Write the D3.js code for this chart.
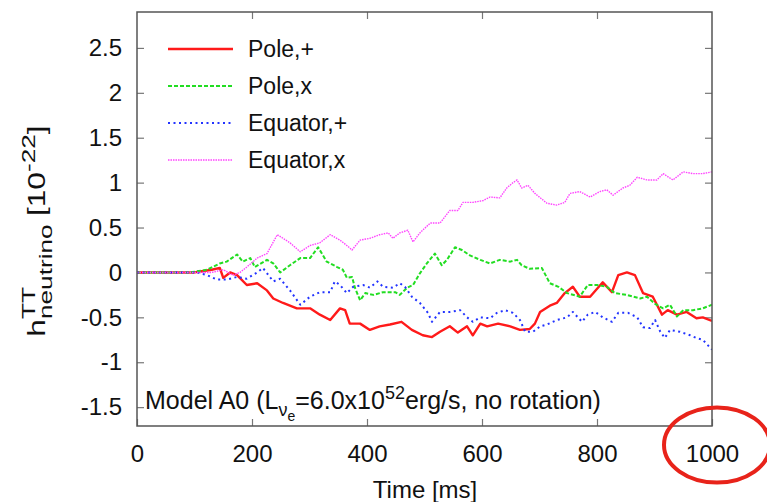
<!DOCTYPE html>
<html>
<head>
<meta charset="utf-8">
<script src="https://cdn.jsdelivr.net/npm/d3@7"></script>
<style>
  html, body { margin: 0; padding: 0; background: #fff; }
  svg { display: block; font-family: "Liberation Sans", Arial, Helvetica, sans-serif; }
</style>
</head>
<body>
<svg id="chart" width="767" height="502"></svg>
<script>
// ---- data ----
const xTicks = [0, 200, 400, 600, 800, 1000];
const yTicks = [-1.5, -1, -0.5, 0, 0.5, 1, 1.5, 2, 2.5];
const seriesNames = ["Pole,+", "Pole,x", "Equator,+", "Equator,x"];

const polePlus = [[0,0],[100,0],[110,0.01],[130,0.03],[144,0.05],[150,-0.06],[162,0],[174,-0.03],[191,-0.14],[209,-0.12],[226,-0.2],[237,-0.29],[254,-0.34],[278,-0.4],[301,-0.4],[318,-0.47],[336,-0.53],[353,-0.4],[362,-0.42],[370,-0.57],[388,-0.57],[405,-0.64],[422,-0.6],[440,-0.58],[460,-0.55],[478,-0.64],[497,-0.7],[513,-0.72],[527,-0.66],[544,-0.6],[558,-0.67],[574,-0.6],[584,-0.7],[597,-0.57],[609,-0.6],[628,-0.57],[649,-0.6],[666,-0.64],[683,-0.63],[692,-0.57],[701,-0.44],[718,-0.37],[730,-0.34],[744,-0.23],[758,-0.16],[770,-0.27],[788,-0.27],[810,-0.11],[826,-0.22],[837,-0.03],[852,0.0],[866,-0.03],[880,-0.23],[897,-0.27],[913,-0.47],[923,-0.42],[939,-0.47],[956,-0.44],[973,-0.51],[984,-0.5],[1000,-0.54]];

const poleCross = [[0,0],[92,0],[122,0.03],[144,0.1],[156,0.12],[174,0.2],[184,0.12],[197,0.16],[205,0.06],[226,0.14],[237,0.1],[249,0.0],[266,0.08],[284,0.16],[301,0.16],[315,0.28],[330,0.12],[348,0.06],[358,0.03],[365,-0.06],[374,-0.05],[379,-0.17],[388,-0.31],[397,-0.23],[411,-0.25],[428,-0.22],[449,-0.22],[457,-0.25],[470,-0.17],[480,-0.14],[492,-0.01],[504,0.1],[518,0.21],[530,0.08],[539,0.14],[553,0.28],[565,0.25],[579,0.19],[597,0.14],[614,0.1],[631,0.14],[649,0.12],[661,0.14],[669,0.08],[683,0.04],[704,0.05],[718,-0.12],[733,-0.16],[748,-0.23],[770,-0.27],[784,-0.14],[800,-0.14],[817,-0.16],[831,-0.23],[852,-0.25],[875,-0.29],[887,-0.27],[901,-0.35],[915,-0.4],[927,-0.36],[939,-0.49],[950,-0.42],[967,-0.42],[984,-0.4],[1000,-0.36]];

const equatorPlus = [[0,0],[104,0],[122,-0.03],[139,-0.08],[156,-0.08],[174,-0.05],[191,-0.07],[209,0.0],[219,0.05],[237,-0.1],[249,-0.07],[266,-0.2],[284,-0.36],[301,-0.27],[318,-0.22],[336,-0.22],[344,-0.1],[353,-0.14],[365,-0.23],[376,-0.16],[393,-0.14],[405,-0.17],[418,-0.1],[428,-0.16],[445,-0.17],[457,-0.12],[466,-0.16],[478,-0.27],[492,-0.34],[506,-0.45],[513,-0.55],[527,-0.44],[544,-0.44],[562,-0.42],[574,-0.5],[584,-0.55],[597,-0.5],[614,-0.51],[626,-0.45],[640,-0.42],[654,-0.45],[666,-0.53],[675,-0.66],[689,-0.66],[701,-0.6],[713,-0.58],[730,-0.53],[748,-0.5],[758,-0.44],[774,-0.55],[784,-0.47],[797,-0.44],[810,-0.5],[826,-0.55],[837,-0.45],[854,-0.45],[870,-0.5],[880,-0.61],[892,-0.62],[901,-0.53],[910,-0.66],[918,-0.73],[927,-0.64],[944,-0.66],[962,-0.7],[973,-0.73],[984,-0.75],[1000,-0.86]];

const equatorCross = [[0,0],[130,0],[150,0.03],[167,-0.03],[179,0.0],[191,0.06],[209,0.16],[226,0.21],[244,0.42],[254,0.38],[266,0.33],[284,0.23],[301,0.3],[318,0.33],[336,0.42],[353,0.36],[365,0.3],[374,0.25],[388,0.36],[405,0.38],[422,0.42],[437,0.44],[445,0.38],[457,0.44],[471,0.47],[480,0.34],[492,0.44],[510,0.55],[527,0.55],[544,0.69],[558,0.69],[567,0.78],[584,0.78],[602,0.8],[614,0.84],[631,0.83],[643,0.94],[654,1.0],[661,1.03],[669,0.94],[680,0.97],[692,0.88],[713,0.77],[730,0.75],[744,0.78],[753,0.88],[770,0.9],[788,0.84],[805,0.9],[817,0.92],[828,0.86],[845,0.94],[857,0.97],[870,1.06],[887,1.03],[904,1.03],[915,1.1],[932,1.03],[950,1.12],[967,1.1],[984,1.1],[1000,1.12]];

// ---- layout / styles ----
const svg = d3.select("#chart");
const L = 137, R = 712, T = 12, B = 426;
const x = d3.scaleLinear().domain([0, 1000]).range([L, R]);
const y = d3.scaleLinear().domain([-1.71, 2.9]).range([B, T]);
const FS = 24;     // tick labels
const FL = 23;     // legend
const FA = 25;     // annotation

const styles = [
  { color: "#ff1a1a", width: 2.4, dash: null },
  { color: "#22dd22", width: 2.0, dash: "4,2" },
  { color: "#2233ff", width: 2.0, dash: "2,3.5" },
  { color: "#ff44ff", width: 1.4, dash: "1.5,1" }
];
const allSeries = [polePlus, poleCross, equatorPlus, equatorCross];

svg.append("defs").append("clipPath").attr("id", "clip")
  .append("rect").attr("x", L).attr("y", T).attr("width", R - L).attr("height", B - T);

// ticks (inward, mirrored)
const tickLen = 7;
const axisColor = "#555";
const gAx = svg.append("g");
const xAxB = d3.axisBottom(x).tickValues(xTicks).tickSizeInner(-tickLen).tickSizeOuter(0).tickPadding(19).tickFormat(d3.format("d"));
const gxb = gAx.append("g").attr("transform", `translate(0,${B})`).call(xAxB);
const xAxT = d3.axisTop(x).tickValues(xTicks.slice(1, -1)).tickSizeInner(-tickLen).tickSizeOuter(0).tickFormat("");
gAx.append("g").attr("transform", `translate(0,${T})`).call(xAxT);
const yAxL = d3.axisLeft(y).tickValues(yTicks).tickSizeInner(-tickLen).tickSizeOuter(0).tickPadding(15).tickFormat(d => d3.format("")(d).replace("−", "-"));
gAx.append("g").attr("transform", `translate(${L},0)`).call(yAxL);
const yAxR = d3.axisRight(y).tickValues(yTicks).tickSizeInner(-tickLen).tickSizeOuter(0).tickFormat("");
gAx.append("g").attr("transform", `translate(${R},0)`).call(yAxR);
gAx.selectAll(".domain").remove();
gAx.selectAll(".tick line").attr("stroke", "#777").attr("stroke-width", 1.2);
gAx.selectAll(".tick text").attr("font-size", FS).attr("fill", "#111")
  .attr("font-family", "'Liberation Sans', Arial, Helvetica, sans-serif");
gxb.selectAll(".tick text").attr("dy", "0.71em");

// lines
const line = d3.line().x(d => x(d[0])).y(d => y(d[1]));
const gl = svg.append("g").attr("clip-path", "url(#clip)");
allSeries.forEach((s, i) => {
  const st = styles[i];
  gl.append("path").datum(s).attr("d", line)
    .attr("fill", "none").attr("stroke", st.color).attr("stroke-width", st.width)
    .attr("stroke-dasharray", st.dash).attr("stroke-linejoin", "round");
});

// border
svg.append("rect").attr("x", L).attr("y", T).attr("width", R - L).attr("height", B - T)
  .attr("fill", "none").attr("stroke", axisColor).attr("stroke-width", 1.5);

// legend
const legY = [49, 86, 123, 160];
const gLeg = svg.append("g");
seriesNames.forEach((n, i) => {
  const st = styles[i];
  gLeg.append("line").attr("x1", 168).attr("x2", 233).attr("y1", legY[i]).attr("y2", legY[i])
    .attr("stroke", st.color).attr("stroke-width", st.width).attr("stroke-dasharray", st.dash);
  gLeg.append("text").attr("x", 248).attr("y", legY[i] + 8).attr("font-size", FL).attr("fill", "#111").text(n);
});

// annotation
const ann = svg.append("text").attr("x", 145).attr("y", 409).attr("font-size", FA).attr("fill", "#111");
ann.append("tspan").text("Model A0 (L");
ann.append("tspan").attr("font-size", 18).attr("dy", 7).text("ν");
ann.append("tspan").attr("font-size", 14).attr("dy", 5).text("e");
ann.append("tspan").attr("font-size", FA).attr("dy", -12).text("=6.0x10");
ann.append("tspan").attr("font-size", 18).attr("dy", -10).text("52");
ann.append("tspan").attr("font-size", FA).attr("dy", 10).text("erg/s, no rotation)");

// x label
svg.append("text").attr("x", 425).attr("y", 498).attr("text-anchor", "middle")
  .attr("font-size", FS).attr("fill", "#111").text("Time [ms]");

// y label (rotated, built from pieces, slightly stretched along its baseline like the reference)
const YM = 23, YS = 19;
const gy = svg.append("g").attr("transform", "translate(45,231) rotate(-90) scale(1.38,1)");
const tH = gy.append("text").attr("font-size", YM).text("h");
const wH = tH.node().getComputedTextLength();
const tTT = gy.append("text").attr("font-size", YS).attr("x", wH).attr("y", -10).text("TT");
const tNeu = gy.append("text").attr("font-size", YS).attr("x", wH).attr("y", 7).text("neutrino");
const wSub = Math.max(tTT.node().getComputedTextLength(), tNeu.node().getComputedTextLength());
const gap = 6;
const tB = gy.append("text").attr("font-size", YM).attr("x", wH + wSub + gap).text("[10");
const wB = tB.node().getComputedTextLength();
const tE = gy.append("text").attr("font-size", YS).attr("x", wH + wSub + gap + wB).attr("y", -10).text("-22");
const wE = tE.node().getComputedTextLength();
const tC = gy.append("text").attr("font-size", YM).attr("x", wH + wSub + gap + wB + wE).text("]");
const total = wH + wSub + gap + wB + wE + tC.node().getComputedTextLength();
gy.selectAll("text").attr("fill", "#111").each(function() {
  const cx = +d3.select(this).attr("x") || 0;
  d3.select(this).attr("x", cx - total / 2);
});

// red highlight ellipse
svg.append("ellipse").attr("cx", 717).attr("cy", 445).attr("rx", 53).attr("ry", 37.5)
  .attr("fill", "none").attr("stroke", "#e8231a").attr("stroke-width", 4);
</script>
</body>
</html>
